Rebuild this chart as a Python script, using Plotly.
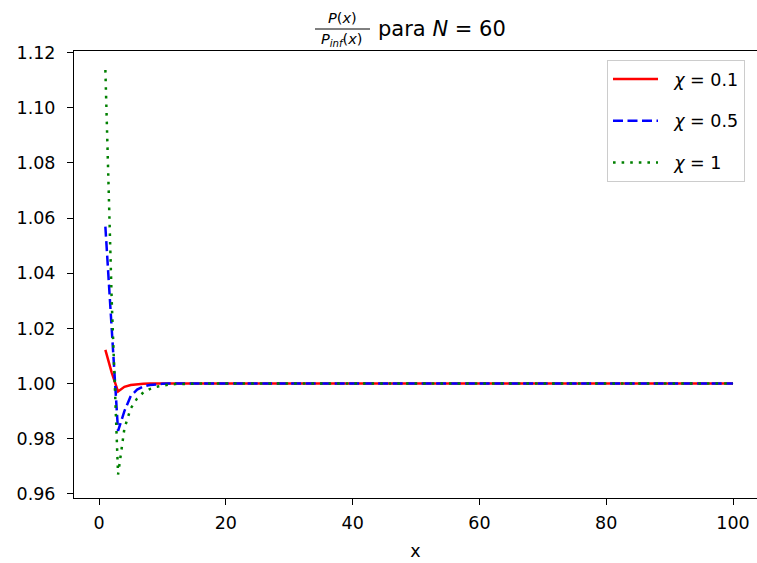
import plotly.graph_objects as go

x_vals = list(range(1, 101))

red_vals = [1.0122, 1.0040, 0.9971, 0.9988, 0.9995, 0.9998, 0.9999, 1.0, 1.0, 1.0,
            1.0, 1.0, 1.0, 1.0, 1.0, 1.0, 1.0, 1.0, 1.0, 1.0,
            1.0, 1.0, 1.0, 1.0, 1.0, 1.0, 1.0, 1.0, 1.0, 1.0,
            1.0, 1.0, 1.0, 1.0, 1.0, 1.0, 1.0, 1.0, 1.0, 1.0,
            1.0, 1.0, 1.0, 1.0, 1.0, 1.0, 1.0, 1.0, 1.0, 1.0,
            1.0, 1.0, 1.0, 1.0, 1.0, 1.0, 1.0, 1.0, 1.0, 1.0,
            1.0, 1.0, 1.0, 1.0, 1.0, 1.0, 1.0, 1.0, 1.0, 1.0,
            1.0, 1.0, 1.0, 1.0, 1.0, 1.0, 1.0, 1.0, 1.0, 1.0,
            1.0, 1.0, 1.0, 1.0, 1.0, 1.0, 1.0, 1.0, 1.0, 1.0,
            1.0, 1.0, 1.0, 1.0, 1.0, 1.0, 1.0, 1.0, 1.0, 1.0]

blue_vals = [1.0569, 1.0180, 0.9828, 0.9900, 0.9955, 0.9978, 0.9989, 0.9995, 0.9998, 0.9999,
             1.0, 1.0, 1.0, 1.0, 1.0, 1.0, 1.0, 1.0, 1.0, 1.0,
             1.0, 1.0, 1.0, 1.0, 1.0, 1.0, 1.0, 1.0, 1.0, 1.0,
             1.0, 1.0, 1.0, 1.0, 1.0, 1.0, 1.0, 1.0, 1.0, 1.0,
             1.0, 1.0, 1.0, 1.0, 1.0, 1.0, 1.0, 1.0, 1.0, 1.0,
             1.0, 1.0, 1.0, 1.0, 1.0, 1.0, 1.0, 1.0, 1.0, 1.0,
             1.0, 1.0, 1.0, 1.0, 1.0, 1.0, 1.0, 1.0, 1.0, 1.0,
             1.0, 1.0, 1.0, 1.0, 1.0, 1.0, 1.0, 1.0, 1.0, 1.0,
             1.0, 1.0, 1.0, 1.0, 1.0, 1.0, 1.0, 1.0, 1.0, 1.0,
             1.0, 1.0, 1.0, 1.0, 1.0, 1.0, 1.0, 1.0, 1.0, 1.0]

green_vals = [1.1137, 1.0300, 0.9670, 0.9837, 0.9910, 0.9946, 0.9968, 0.9980, 0.9988, 0.9993,
              0.9996, 0.9998, 0.9999, 1.0, 1.0, 1.0, 1.0, 1.0, 1.0, 1.0,
              1.0, 1.0, 1.0, 1.0, 1.0, 1.0, 1.0, 1.0, 1.0, 1.0,
              1.0, 1.0, 1.0, 1.0, 1.0, 1.0, 1.0, 1.0, 1.0, 1.0,
              1.0, 1.0, 1.0, 1.0, 1.0, 1.0, 1.0, 1.0, 1.0, 1.0,
              1.0, 1.0, 1.0, 1.0, 1.0, 1.0, 1.0, 1.0, 1.0, 1.0,
              1.0, 1.0, 1.0, 1.0, 1.0, 1.0, 1.0, 1.0, 1.0, 1.0,
              1.0, 1.0, 1.0, 1.0, 1.0, 1.0, 1.0, 1.0, 1.0, 1.0,
              1.0, 1.0, 1.0, 1.0, 1.0, 1.0, 1.0, 1.0, 1.0, 1.0,
              1.0, 1.0, 1.0, 1.0, 1.0, 1.0, 1.0, 1.0, 1.0, 1.0]

series_names = ["\u00a0\u00a0<i>χ</i> = 0.1", "\u00a0\u00a0<i>χ</i> = 0.5", "\u00a0\u00a0<i>χ</i> = 1"]
x_ticks = [0, 20, 40, 60, 80, 100]
y_ticks = [0.96, 0.98, 1.00, 1.02, 1.04, 1.06, 1.08, 1.10, 1.12]
y_tick_labels = ["0.96", "0.98", "1.00", "1.02", "1.04", "1.06", "1.08", "1.10", "1.12"]

FONT = "DejaVu Sans"
W, H = 757, 563
L, R, T, B = 74, 757, 51, 498  # plot area pixel box


def px(xp):
    return (xp - L) / (R - L)


def py(yp):
    return (B - yp) / (B - T)


fig = go.Figure()
fig.add_trace(go.Scatter(x=x_vals, y=red_vals, mode="lines", name=series_names[0],
                         legendgroup="a",
                         line=dict(color="#ff0000", width=2.5)))
fig.add_trace(go.Scatter(x=x_vals, y=blue_vals, mode="lines", name=series_names[1],
                         legendgroup="b",
                         line=dict(color="#0000ff", width=2.5, dash="10px,4.5px")))
fig.add_trace(go.Scatter(x=x_vals, y=green_vals, mode="lines", name=series_names[2],
                         legendgroup="c",
                         line=dict(color="#008000", width=2.5, dash="2.6px,6px")))

fig.update_layout(
    width=W, height=H,
    margin=dict(l=L, r=W - R, t=T, b=H - B, pad=0),
    paper_bgcolor="white", plot_bgcolor="white",
    font=dict(family=FONT, size=17.5, color="black"),
    showlegend=True,
    legend=dict(x=px(607), y=py(60), xanchor="left", yanchor="top",
                bgcolor="rgba(255,255,255,0.8)", bordercolor="#cccccc", borderwidth=1,
                font=dict(family=FONT, size=17.5), tracegroupgap=16,
                traceorder="grouped", itemwidth=45),
    xaxis=dict(range=[-3.95, -3.95 + (R - L) / 6.34], tickvals=x_ticks,
               showgrid=False, zeroline=False, showline=True, linecolor="black",
               linewidth=1, mirror=True, ticks="outside", ticklen=6, tickcolor="black",
               ticklabelstandoff=3,
               title=dict(text="x", font=dict(size=17.5), standoff=12)),
    yaxis=dict(range=[0.9585, 1.1206], tickvals=y_ticks, ticktext=y_tick_labels,
               showgrid=False, zeroline=False, showline=True, linecolor="black",
               linewidth=1, mirror=False, ticks="outside", ticklen=6, tickcolor="black",
               ticklabelstandoff=8),
)

# Title: fraction P(x)/P_inf(x) followed by "para N = 60"
fig.add_annotation(xref="paper", yref="paper", x=px(342), y=py(18), showarrow=False,
                   text="<i>P</i>(<i>x</i>)", font=dict(family=FONT, size=14.5),
                   xanchor="center", yanchor="middle")
fig.add_annotation(xref="paper", yref="paper", x=px(341), y=py(40), showarrow=False,
                   text="<i>P</i><sub><i>inf</i></sub>(<i>x</i>)", font=dict(family=FONT, size=14.5),
                   xanchor="center", yanchor="middle")
fig.add_shape(type="line", xref="paper", yref="paper", x0=px(315), x1=px(370),
              y0=py(29), y1=py(29), line=dict(color="black", width=1))
fig.add_annotation(xref="paper", yref="paper", x=px(376), y=py(29), showarrow=False,
                   text="para <i>N</i> = 60", font=dict(family=FONT, size=21),
                   xanchor="left", yanchor="middle")

fig.write_html("out.html")
